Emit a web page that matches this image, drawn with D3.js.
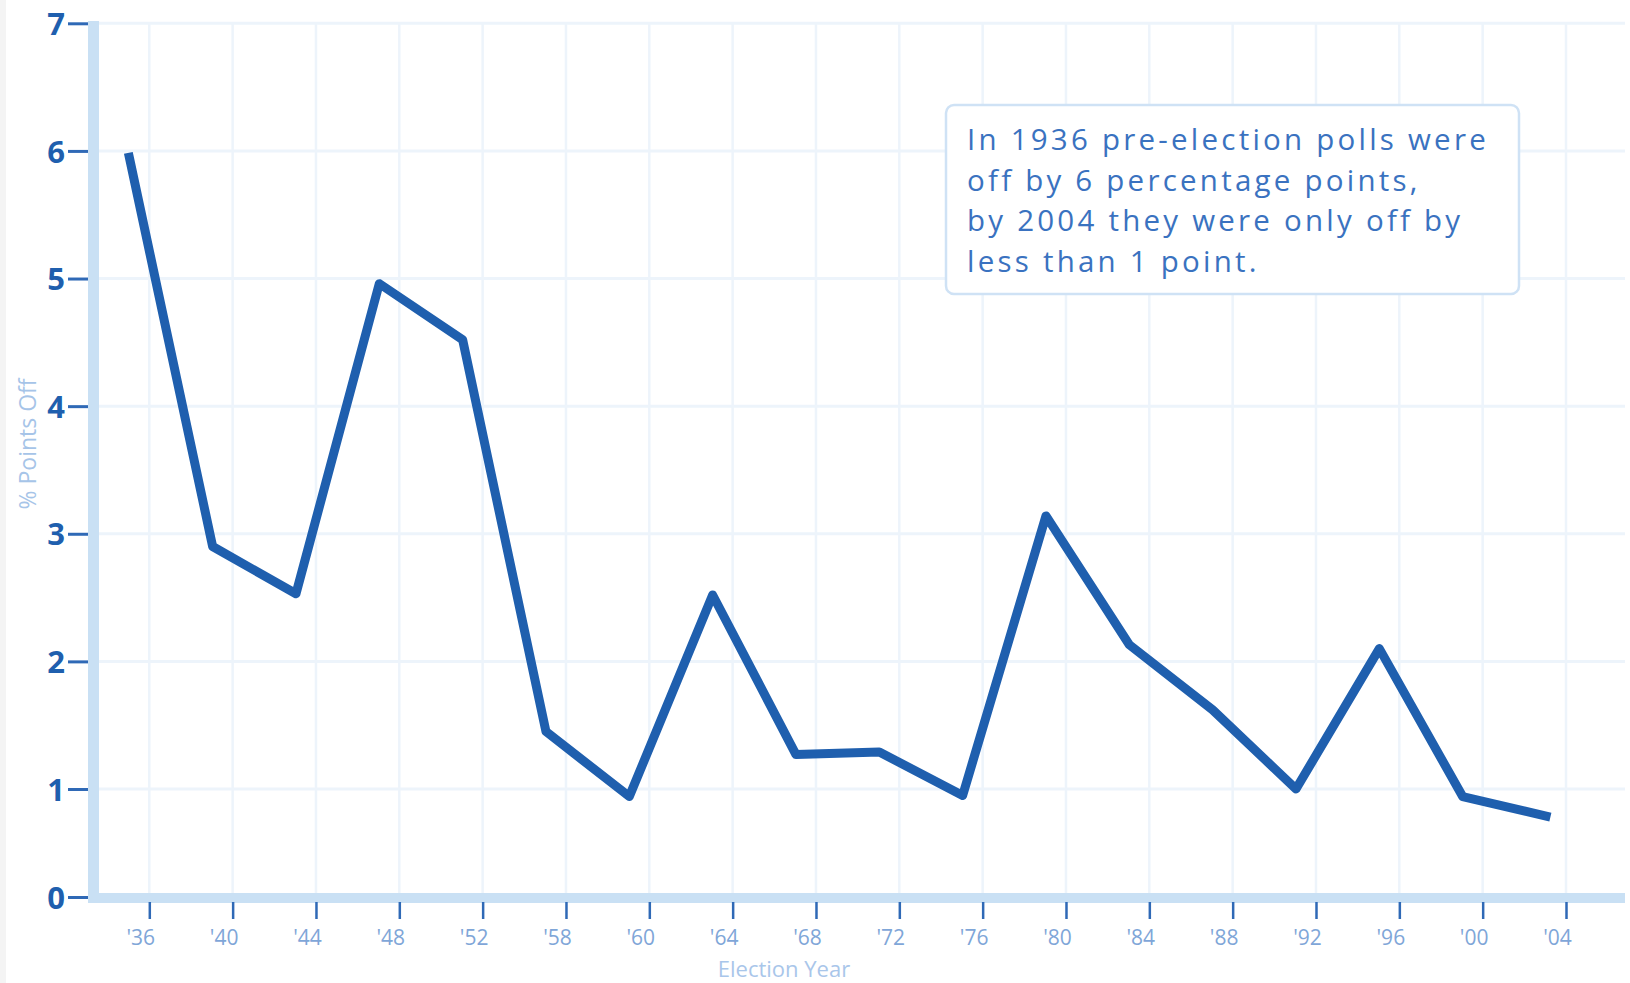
<!DOCTYPE html>
<html>
<head>
<meta charset="utf-8">
<script src="https://cdn.jsdelivr.net/npm/d3@7"></script>
<style>
  html, body { margin: 0; padding: 0; background: #ffffff; }
  svg { display: block; }
</style>
</head>
<body>
<svg id="chart" width="1630" height="983"></svg>
<script>
// ---- data ----
const years = [1936, 1940, 1944, 1948, 1952, 1956, 1960, 1964, 1968, 1972, 1976, 1980, 1984, 1988, 1992, 1996, 2000, 2004];
const pointsOff = [5.95, 2.9, 2.53, 4.96, 4.52, 1.45, 0.93, 2.52, 1.27, 1.29, 0.94, 3.14, 2.13, 1.62, 1.0, 2.1, 0.93, 0.75];
const xTickLabels = ["'36", "'40", "'44", "'48", "'52", "'58", "'60", "'64", "'68", "'72", "'76", "'80", "'84", "'88", "'92", "'96", "'00", "'04"];
const yTicks = [0, 1, 2, 3, 4, 5, 6, 7];
const noteLines = [
  "In 1936 pre-election polls were",
  "off by 6 percentage points,",
  "by 2004 they were only off by",
  "less than 1 point."
];
const xTitle = "Election Year";
const yTitle = "% Points Off";

// ---- layout ----
const svg = d3.select("#chart");
const W = 1630, H = 983;
const axisLeft = 88, axisBottom = 893, plotRight = 1625, plotTop = 23;

const x = d3.scaleLinear().domain([1936, 2004]).range([149.3, 1566]);
const y = d3.scaleLinear().domain([0, 1, 7]).range([897, 789, 23.3]);

// faint left page edge
svg.append("rect").attr("x", 0).attr("y", 0).attr("width", 6).attr("height", H).attr("fill", "#f4f4f4");

// grid
const grid = svg.append("g");
grid.selectAll("line.v").data(years).join("line")
  .attr("class", "v")
  .attr("x1", d => x(d)).attr("x2", d => x(d))
  .attr("y1", plotTop).attr("y2", axisBottom)
  .attr("stroke", "#edf4fb").attr("stroke-width", 2.5);
grid.selectAll("line.h").data(yTicks.filter(d => d > 0)).join("line")
  .attr("class", "h")
  .attr("x1", axisLeft + 11).attr("x2", plotRight)
  .attr("y1", d => y(d)).attr("y2", d => y(d))
  .attr("stroke", "#edf4fb").attr("stroke-width", 3);

// axis bars
svg.append("rect").attr("x", axisLeft).attr("y", plotTop - 2)
  .attr("width", 11).attr("height", axisBottom + 10 - (plotTop - 2))
  .attr("fill", "#c9e0f4");
svg.append("rect").attr("x", axisLeft).attr("y", axisBottom)
  .attr("width", plotRight - axisLeft).attr("height", 10)
  .attr("fill", "#c9e0f4");

// y axis ticks & labels
const yAxis = d3.axisLeft(y).tickValues(yTicks).tickSize(20).tickPadding(3).tickFormat(d3.format("d"));
const gy = svg.append("g").attr("transform", `translate(${axisLeft},0)`).call(yAxis);
gy.select(".domain").remove();
gy.selectAll(".tick line").attr("stroke", "#2f69b6").attr("stroke-width", 3);
gy.selectAll(".tick text")
  .attr("fill", "#1f5fae")
  .attr("font-family", "'Open Sans', sans-serif")
  .attr("font-weight", 700)
  .attr("font-size", 31)
  .attr("dy", "0.36em");

// x axis ticks & labels
const xAxis = d3.axisBottom(x).tickValues(years).tickSize(17).tickPadding(11)
  .tickFormat((d, i) => xTickLabels[i]);
const gx = svg.append("g").attr("transform", `translate(0,${axisBottom + 9})`).call(xAxis);
gx.select(".domain").remove();
gx.selectAll(".tick line").attr("stroke", "#2f69b6").attr("stroke-width", 2.5);
gx.selectAll(".tick text")
  .attr("fill", "#7fa6d8")
  .attr("font-family", "'Open Sans', sans-serif")
  .attr("font-size", 21)
  .attr("dx", -9);

// line (points sit slightly left of the year ticks, as in the original)
const line = d3.line().x((d, i) => x(years[i])).y(d => y(d));
svg.append("g").attr("transform", "translate(-20,0)")
  .append("path")
  .datum(pointsOff)
  .attr("d", line)
  .attr("fill", "none")
  .attr("stroke", "#1f5fae")
  .attr("stroke-width", 9)
  .attr("stroke-linejoin", "round")
  .attr("stroke-linecap", "square");

// axis titles
svg.append("text")
  .attr("x", 784).attr("y", 977)
  .attr("text-anchor", "middle")
  .attr("fill", "#a9c6ea")
  .attr("font-family", "'Open Sans', sans-serif")
  .attr("font-size", 22)
  .text(xTitle);
svg.append("text")
  .attr("transform", "translate(36,444) rotate(-90)")
  .attr("text-anchor", "middle")
  .attr("fill", "#a6c4e8")
  .attr("font-family", "'Open Sans', sans-serif")
  .attr("font-size", 23)
  .text(yTitle);

// annotation box
svg.append("rect")
  .attr("x", 946).attr("y", 105)
  .attr("width", 573).attr("height", 189)
  .attr("rx", 8).attr("ry", 8)
  .attr("fill", "#ffffff")
  .attr("stroke", "#cfe2f5").attr("stroke-width", 2.5);
const notes = svg.append("g")
  .attr("fill", "#3a72c0")
  .attr("font-family", "'Open Sans', sans-serif")
  .attr("font-size", 29.5);
const noteText = notes.selectAll("text").data(noteLines).join("text")
  .attr("x", 967).attr("y", (d, i) => 150 + i * 40.5)
  .text(d => d);
// widen letter spacing so the first line spans the same width as the original
const w0 = noteText.node().getComputedTextLength();
const n0 = noteLines[0].length;
if (w0 > 0) notes.attr("letter-spacing", Math.max(0, (522 - w0) / n0));
</script>
</body>
</html>
